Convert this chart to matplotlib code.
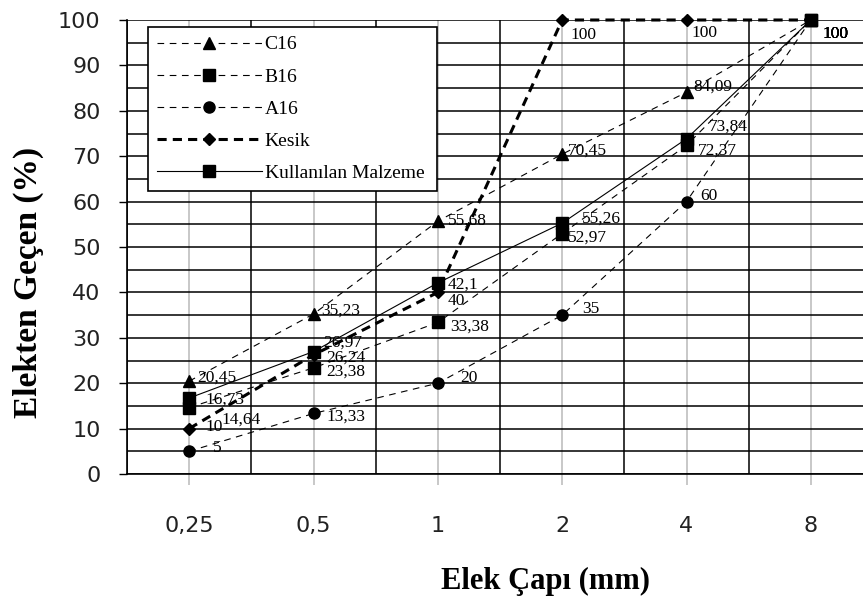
import numpy as np
import matplotlib
matplotlib.use("Agg")
import matplotlib.pyplot as plt

# ---------------- data ----------------
categories = ["0,25", "0,5", "1", "2", "4", "8"]
c16 = [20.45, 35.23, 55.68, 70.45, 84.09, 100]
b16 = [14.64, 23.38, 33.38, 52.97, 72.37, 100]
a16 = [5, 13.33, 20, 35, 60, 100]
kesik = [10, 26.24, 40, 100, 100, 100]
kullanilan = [16.73, 26.97, 42.1, 55.26, 73.84, 100]

series_names = ["C16", "B16", "A16", "Kesik", "Kullanılan Malzeme"]
series_values = [c16, b16, a16, kesik, kullanilan]

# ---------------- styles ----------------
styles = {
    "C16": dict(marker="^", ls=(0, (6, 5)), lw=0.8, ms=9),
    "B16": dict(marker="s", ls=(0, (6, 5)), lw=0.8, ms=8.5),
    "A16": dict(marker="o", ls=(0, (6, 5)), lw=0.8, ms=8),
    "Kesik": dict(marker="D", ls=(0, (3, 2)), lw=2.2, ms=6),
    "Kullanılan Malzeme": dict(marker="s", ls="-", lw=0.8, ms=8.5),
}
# label offsets in pixels (dx to left edge of text, dy up)
label_offsets = {
    "C16": [(8, 4), (8, 3), (10, 1), (6, 4), (7, 6), (12, -14)],
    "B16": [(32, -12), (13, -4), (12, -4), (6, -4), (11, -5), (12, -14)],
    "A16": [(24, 3), (13, -3), (22, 5), (20, 6), (14, 6), (12, -14)],
    "Kesik": [(16, 2), (13, -3), (10, -9), (8, -15), (5, -13), (12, -14)],
    "Kullanılan Malzeme": [(16, -2), (10, 9), (10, -2), (20, 4), (22, 12), (12, -14)],
}

W, H = 863, 605
fig = plt.figure(figsize=(W / 100, H / 100), dpi=100)
ax = fig.add_axes([127 / W, 131 / H, 746 / W, 454 / H])

x = np.arange(len(categories))
ax.set_xlim(-0.5, len(categories) - 0.5)
ax.set_ylim(0, 100)

# grid
ax.set_yticks(np.arange(0, 101, 10))
ax.set_yticks(np.arange(0, 101, 5), minor=True)
ax.set_xticks(x)
ax.set_xticks(np.arange(-0.5, len(categories), 1), minor=True)
ax.set_xticklabels(categories)
ax.grid(axis="x", which="major", color="#c4c4c4", lw=1.3, zorder=0)
ax.grid(axis="x", which="minor", color="black", lw=1.1, zorder=0)
ax.grid(axis="y", which="both", color="black", lw=1.1, zorder=0)
ax.set_axisbelow(True)

for s in ["top", "right"]:
    ax.spines[s].set_visible(False)
for s in ["left", "bottom"]:
    ax.spines[s].set_linewidth(1.2)

ax.tick_params(axis="y", which="major", direction="out", length=6, width=1,
               pad=13, labelsize=16, labelcolor="#222222")
ax.tick_params(axis="y", which="minor", length=0)
ax.tick_params(axis="x", which="major", direction="out", length=8, width=1.3,
               color="#c4c4c4", pad=22, labelsize=16, labelcolor="#222222")
ax.tick_params(axis="x", which="minor", length=0)
for lab in ax.get_xticklabels() + ax.get_yticklabels():
    lab.set_fontfamily("DejaVu Sans")

handles = []
for name, vals in zip(series_names, series_values):
    st = styles[name]
    line, = ax.plot(x, vals, color="black", linestyle=st["ls"], lw=st["lw"],
                    marker=st["marker"], ms=st["ms"], mfc="black", mec="black",
                    label=name, zorder=3, clip_on=False)
    handles.append(line)
    for xi, v, (dx, dy) in zip(x, vals, label_offsets[name]):
        ax.annotate(f"{v:g}".replace(".", ","), (xi, v), xytext=(dx, dy),
                    textcoords="offset pixels", ha="left", va="center",
                    fontsize=12.5, family="Liberation Serif", color="black",
                    zorder=5)

leg = ax.legend(handles=handles, loc="upper left",
                bbox_to_anchor=(21 / 746, (474 - 209) / 454, 289 / 746, 182 / 454),
                mode="expand", borderaxespad=0, fancybox=False, framealpha=1,
                edgecolor="black", prop={"family": "Liberation Serif", "size": 14},
                handlelength=5.4, handletextpad=0.15, borderpad=0.45,
                labelspacing=0.75, numpoints=1)
leg.get_frame().set_linewidth(1.2)
leg.set_zorder(6)

fig.text(545 / W, 1 - 581 / H, "Elek Çapı (mm)", ha="center", va="center",
         fontsize=22, fontweight="bold", family="Liberation Serif")
fig.text(28 / W, 1 - 282 / H, "Elekten Geçen (%)", ha="center", va="center",
         rotation=90, fontsize=24, fontweight="bold", family="Liberation Serif")

fig.savefig("out.png", dpi=100)
